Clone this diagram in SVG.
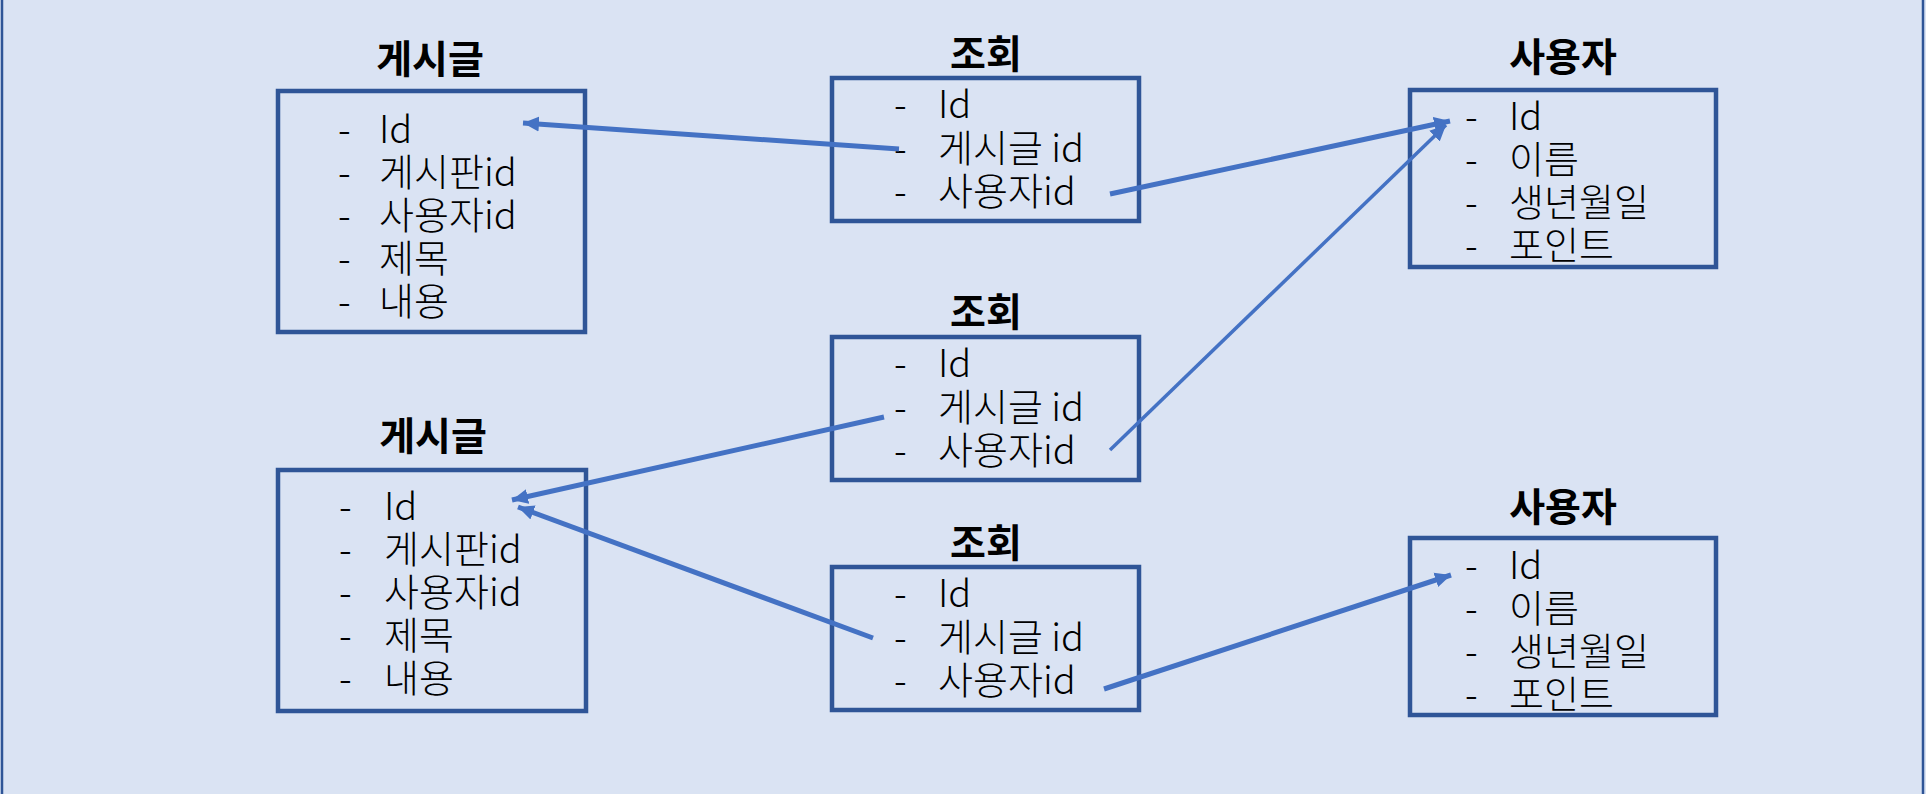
<svg xmlns="http://www.w3.org/2000/svg" width="1926" height="794" viewBox="0 0 1926 794">
<defs>
<style>
.bg{fill:#DAE3F3}
.edge{stroke:#2F5597;stroke-width:2.5}
.box{fill:none;stroke:#2F5597;stroke-width:4.5}
.title{font-family:"Noto Sans CJK KR","Noto Sans",sans-serif;font-weight:bold;font-size:39px;fill:#000;text-anchor:middle}
.item{font-family:"Noto Sans CJK KR","Noto Sans",sans-serif;font-weight:300;font-size:38px;fill:#000}
.conn{stroke:#4472C4;stroke-width:5;fill:none}
.thin{stroke-width:3.5}
</style>
<marker id="ah" markerUnits="userSpaceOnUse" markerWidth="18" markerHeight="18" viewBox="0 0 18 18" refX="16" refY="9" orient="auto">
<path d="M0,1.5 L16,9 L0,16.5 Z" fill="#4472C4"/>
</marker>
</defs>
<rect class="bg" x="0" y="0" width="1926" height="794"/>
<line class="edge" x1="2" y1="0" x2="2" y2="794"/>
<line class="edge" x1="1923" y1="0" x2="1923" y2="794"/>

<g id="post1">
<text class="title" x="430" y="73">게시글</text>
<rect class="box" x="278" y="91" width="307" height="241"/>
<text class="item"><tspan x="338" y="143">-</tspan><tspan x="379" y="143">Id</tspan><tspan x="338" y="186">-</tspan><tspan x="379" y="186">게시판id</tspan><tspan x="338" y="229">-</tspan><tspan x="379" y="229">사용자id</tspan><tspan x="338" y="272">-</tspan><tspan x="379" y="272">제목</tspan><tspan x="338" y="315">-</tspan><tspan x="379" y="315">내용</tspan></text>
</g>

<g id="post2">
<text class="title" x="433" y="450">게시글</text>
<rect class="box" x="278" y="470" width="308" height="241"/>
<text class="item"><tspan x="339" y="520">-</tspan><tspan x="384" y="520">Id</tspan><tspan x="339" y="563">-</tspan><tspan x="384" y="563">게시판id</tspan><tspan x="339" y="606">-</tspan><tspan x="384" y="606">사용자id</tspan><tspan x="339" y="649">-</tspan><tspan x="384" y="649">제목</tspan><tspan x="339" y="692">-</tspan><tspan x="384" y="692">내용</tspan></text>
</g>

<g id="view1">
<text class="title" x="986" y="68">조회</text>
<rect class="box" x="832" y="78" width="307" height="143"/>
<text class="item"><tspan x="894" y="118">-</tspan><tspan x="938" y="118">Id</tspan><tspan x="894" y="162">-</tspan><tspan x="938" y="162">게시글 id</tspan><tspan x="894" y="205">-</tspan><tspan x="938" y="205">사용자id</tspan></text>
</g>

<g id="view2">
<text class="title" x="986" y="326">조회</text>
<rect class="box" x="832" y="337" width="307" height="143"/>
<text class="item"><tspan x="894" y="377">-</tspan><tspan x="938" y="377">Id</tspan><tspan x="894" y="421">-</tspan><tspan x="938" y="421">게시글 id</tspan><tspan x="894" y="464">-</tspan><tspan x="938" y="464">사용자id</tspan></text>
</g>

<g id="view3">
<text class="title" x="986" y="557">조회</text>
<rect class="box" x="832" y="567" width="307" height="143"/>
<text class="item"><tspan x="894" y="607">-</tspan><tspan x="938" y="607">Id</tspan><tspan x="894" y="651">-</tspan><tspan x="938" y="651">게시글 id</tspan><tspan x="894" y="694">-</tspan><tspan x="938" y="694">사용자id</tspan></text>
</g>

<g id="user1">
<text class="title" x="1563" y="71">사용자</text>
<rect class="box" x="1410" y="90" width="306" height="177"/>
<text class="item"><tspan x="1465" y="130">-</tspan><tspan x="1509" y="130">Id</tspan><tspan x="1465" y="173">-</tspan><tspan x="1509" y="173">이름</tspan><tspan x="1465" y="216">-</tspan><tspan x="1509" y="216">생년월일</tspan><tspan x="1465" y="259">-</tspan><tspan x="1509" y="259">포인트</tspan></text>
</g>

<g id="user2">
<text class="title" x="1563" y="521">사용자</text>
<rect class="box" x="1410" y="538" width="306" height="177"/>
<text class="item"><tspan x="1465" y="579">-</tspan><tspan x="1509" y="579">Id</tspan><tspan x="1465" y="622">-</tspan><tspan x="1509" y="622">이름</tspan><tspan x="1465" y="665">-</tspan><tspan x="1509" y="665">생년월일</tspan><tspan x="1465" y="708">-</tspan><tspan x="1509" y="708">포인트</tspan></text>
</g>

<g id="connectors">
<line class="conn" x1="899" y1="149" x2="523" y2="123" marker-end="url(#ah)"/>
<line class="conn" x1="1110" y1="194" x2="1450" y2="121" marker-end="url(#ah)"/>
<line class="conn thin" x1="1110" y1="450" x2="1446" y2="125" marker-end="url(#ah)"/>
<line class="conn" x1="884" y1="417" x2="512" y2="500" marker-end="url(#ah)"/>
<line class="conn" x1="873" y1="638" x2="518" y2="507" marker-end="url(#ah)"/>
<line class="conn" x1="1104" y1="689" x2="1451" y2="575" marker-end="url(#ah)"/>
</g>
</svg>
